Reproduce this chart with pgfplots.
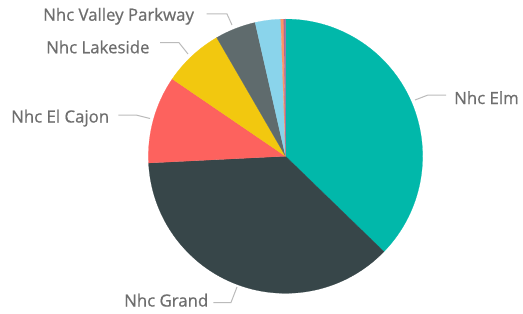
\documentclass[border=0pt]{standalone}
\usepackage{pgfplots}
\pgfplotsset{compat=1.18}
\usepackage{pgfplotstable}
\usepackage{fontspec}
\setmainfont{Open Sans}
\newfontfamily\labelfamily[FakeBold=0.7]{Open Sans}
\definecolor{cElm}{HTML}{01B8AA}
\definecolor{cGrand}{HTML}{374649}
\definecolor{cCajon}{HTML}{FD625E}
\definecolor{cLake}{HTML}{F2C80F}
\definecolor{cValley}{HTML}{5F6B6D}
\definecolor{cBlue}{HTML}{8AD4EB}
\definecolor{cOrange}{HTML}{FE9666}
\definecolor{cPurple}{HTML}{A66999}
\definecolor{labelgrey}{HTML}{6E6E6E}
\definecolor{leadergrey}{HTML}{BBBBBB}

\pgfplotstableread{
name value col
Elm 37.2 cElm
Grand 36.9 cGrand
ElCajon 10.3 cCajon
Lakeside 7.1 cLake
ValleyParkway 4.8 cValley
Other1 3.0 cBlue
Other2 0.35 cOrange
Other3 0.2 cPurple
}\piedata

\newcommand\labelfont{\labelfamily\fontsize{16.8bp}{20bp}\selectfont}

\begin{document}
\begin{tikzpicture}
\pgfplotstablegetrowsof{\piedata}
\pgfmathtruncatemacro{\lastrow}{\pgfplotsretval-1}
\gdef\pietot{0}
\foreach \i in {0,...,\lastrow}{%
  \pgfplotstablegetelem{\i}{value}\of\piedata
  \pgfmathsetmacro{\tmpsum}{\pietot+\pgfplotsretval}%
  \xdef\pietot{\tmpsum}%
}
\gdef\slices{}
\gdef\piecum{0}
\foreach \i in {0,...,\lastrow}{%
  \pgfplotstablegetelem{\i}{value}\of\piedata \let\slval\pgfplotsretval
  \pgfplotstablegetelem{\i}{col}\of\piedata \let\slcol\pgfplotsretval
  \pgfmathsetmacro{\slas}{90-\piecum/\pietot*360}%
  \pgfmathsetmacro{\slae}{90-(\piecum+\slval)/\pietot*360}%
  \pgfmathsetmacro{\slnc}{\piecum+\slval}%
  \xdef\piecum{\slnc}%
  \xdef\slices{\unexpanded\expandafter{\slices}\noexpand\filldraw[fill=\slcol,draw=\slcol,line width=0.2bp] (axis cs:285.5,156.8) -- ++(\slas:137.1bp) arc[start angle=\slas, end angle=\slae, radius=137.1bp] -- cycle;}%
}
\begin{axis}[
  hide axis, x=1bp, y=1bp,
  xmin=0, xmax=523, ymin=0, ymax=313,
  clip=false,
]
\path (axis cs:0,0) rectangle (axis cs:523,313);
\slices
% leader lines
\draw[leadergrey, line width=1bp] (axis cs:415,213) -- (axis cs:428,218) -- (axis cs:446,218);
\draw[leadergrey, line width=1bp] (axis cs:237,26) -- (axis cs:231,10.5) -- (axis cs:213.3,10.5);
\draw[leadergrey, line width=1bp] (axis cs:150,194.5) -- (axis cs:136,198) -- (axis cs:118.3,198);
\draw[leadergrey, line width=1bp] (axis cs:188,259) -- (axis cs:179,270.3) -- (axis cs:160,270.3);
\draw[leadergrey, line width=1bp] (axis cs:232,288) -- (axis cs:227,299) -- (axis cs:206.7,299);
% labels
\node[anchor=base west, inner sep=0pt, text=labelgrey, font=\labelfont] at (axis cs:454,209) {Nhc Elm};
\node[anchor=base west, inner sep=0pt, text=labelgrey, font=\labelfont] at (axis cs:124,6.5) {Nhc Grand};
\node[anchor=base west, inner sep=0pt, text=labelgrey, font=\labelfont] at (axis cs:11,190.5) {Nhc El Cajon};
\node[anchor=base west, inner sep=0pt, text=labelgrey, font=\labelfont] at (axis cs:46,259.7) {Nhc Lakeside};
\node[anchor=base west, inner sep=0pt, text=labelgrey, font=\labelfont] at (axis cs:43,292.3) {Nhc Valley Parkway};
\end{axis}
\end{tikzpicture}
\end{document}
